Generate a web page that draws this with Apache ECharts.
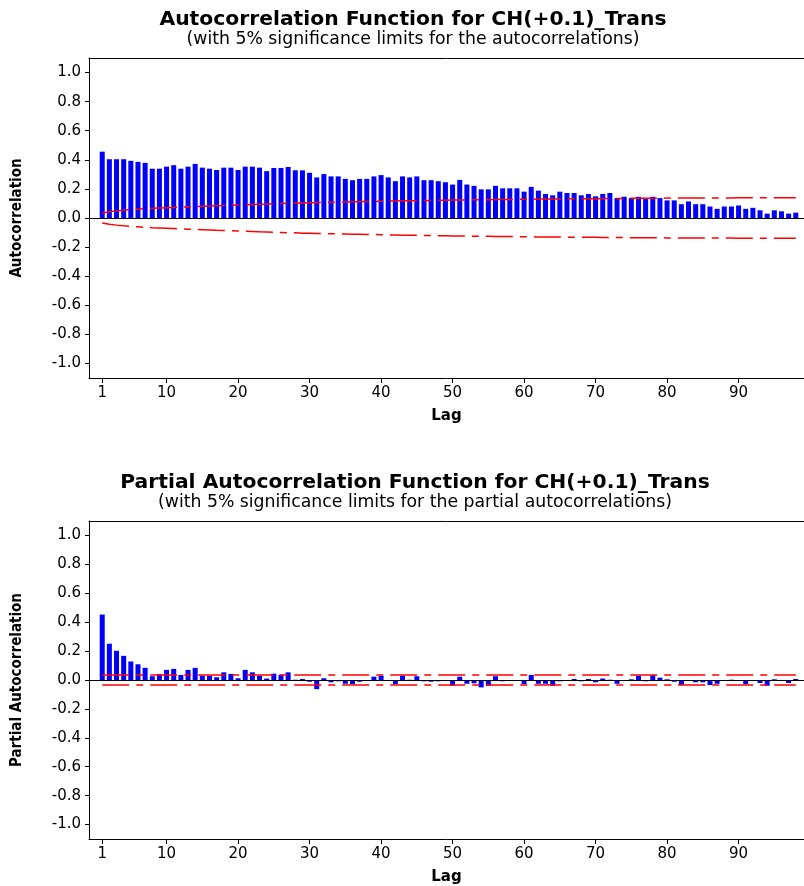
<!DOCTYPE html>
<html>
<head>
<meta charset="utf-8">
<script src="https://cdn.jsdelivr.net/npm/echarts@6/dist/echarts.min.js"></script>
<style>
html,body{margin:0;padding:0;background:#fff;}
#chart{width:804px;height:886px;}
</style>
</head>
<body>
<div id="chart"></div>
<script>
// ---- data ----
const lags = Array.from({length: 98}, (_, i) => i + 1);

const acfValues = [
  0.456,0.404,0.404,0.404,0.393,0.386,0.379,0.339,0.339,0.353,
  0.363,0.339,0.353,0.372,0.346,0.339,0.330,0.346,0.346,0.330,
  0.353,0.353,0.346,0.322,0.344,0.344,0.351,0.328,0.328,0.311,
  0.279,0.302,0.286,0.286,0.269,0.260,0.269,0.269,0.286,0.295,
  0.279,0.253,0.286,0.279,0.286,0.260,0.260,0.253,0.246,0.230,
  0.262,0.230,0.221,0.197,0.197,0.221,0.204,0.204,0.204,0.181,
  0.214,0.188,0.165,0.156,0.181,0.172,0.172,0.156,0.165,0.149,
  0.165,0.172,0.137,0.146,0.137,0.146,0.130,0.146,0.137,0.121,
  0.121,0.095,0.114,0.095,0.095,0.079,0.063,0.079,0.079,0.086,
  0.063,0.070,0.053,0.030,0.053,0.046,0.030,0.037
];

const acfLimit = [
  0.035,0.043,0.049,0.054,0.058,0.061,0.064,0.067,0.069,0.071,
  0.073,0.075,0.077,0.079,0.081,0.083,0.085,0.086,0.088,0.090,
  0.091,0.093,0.095,0.096,0.098,0.099,0.101,0.102,0.104,0.105,
  0.106,0.107,0.108,0.109,0.110,0.111,0.112,0.113,0.114,0.115,
  0.116,0.117,0.118,0.119,0.119,0.120,0.121,0.122,0.122,0.123,
  0.124,0.124,0.125,0.126,0.126,0.127,0.127,0.128,0.128,0.129,
  0.129,0.130,0.130,0.131,0.131,0.132,0.132,0.132,0.133,0.133,
  0.134,0.134,0.134,0.135,0.135,0.135,0.136,0.136,0.136,0.137,
  0.137,0.137,0.137,0.138,0.138,0.138,0.138,0.138,0.138,0.139,
  0.139,0.139,0.139,0.139,0.139,0.139,0.139,0.139
];

const pacfValues = [
  0.453,0.251,0.202,0.167,0.128,0.109,0.084,0.026,0.042,0.070,
  0.077,0.035,0.070,0.084,0.030,0.030,0.019,0.053,0.042,0.012,
  0.070,0.053,0.030,0.010,0.044,0.037,0.053,0.002,0.007,-0.012,
  -0.063,0.012,-0.016,-0.009,-0.026,-0.028,-0.012,-0.005,0.023,0.030,
  -0.007,-0.028,0.030,0.002,0.026,-0.009,-0.012,-0.009,-0.007,-0.040,
  0.023,-0.026,-0.023,-0.051,-0.040,0.026,-0.009,-0.007,-0.005,-0.028,
  0.035,-0.026,-0.026,-0.040,-0.009,-0.007,0.007,-0.009,0.007,-0.016,
  0.010,0.002,-0.026,-0.005,0.005,0.030,-0.009,0.033,0.016,0.005,
  -0.012,-0.035,-0.002,-0.016,-0.016,-0.035,-0.026,-0.005,0.002,-0.002,
  -0.028,-0.005,-0.021,-0.040,0.005,-0.005,-0.021,0.007
];

const pacfLimit = 0.034;

const xTickLabels = [1, 10, 20, 30, 40, 50, 60, 70, 80, 90];
const yTickLabels = [-1.0, -0.8, -0.6, -0.4, -0.2, 0.0, 0.2, 0.4, 0.6, 0.8, 1.0];

const titles = [
  'Autocorrelation Function for CH(+0.1)_Trans',
  'Partial Autocorrelation Function for CH(+0.1)_Trans'
];
const subtitles = [
  '(with 5% significance limits for the autocorrelations)',
  '(with 5% significance limits for the partial autocorrelations)'
];
const yNames = ['Autocorrelation', 'Partial Autocorrelation'];

// ---- chart ----
const chart = echarts.init(document.getElementById('chart'), null, {renderer: 'canvas'});

const BLUE = '#0000ff';
const RED = '#ff0000';
const tickFont = {fontFamily: 'DejaVu Sans', fontSize: 15, color: '#000'};
const dashPattern = [27, 7, 7, 7];
const X_MIN = -0.85, X_MAX = 99.15;

function xAx(gi) {
  return {
    type: 'value', gridIndex: gi, min: X_MIN, max: X_MAX, position: 'bottom',
    name: 'Lag', nameLocation: 'middle', nameGap: 31,
    nameTextStyle: {fontFamily: 'DejaVu Sans', fontWeight: 'bold', fontSize: 15, color: '#000'},
    axisLine: {show: true, onZero: false, lineStyle: {color: '#000', width: 1}},
    axisTick: {show: true, length: 5, lineStyle: {color: '#000', width: 1}, customValues: xTickLabels},
    axisLabel: Object.assign({customValues: xTickLabels, margin: 8, showMinLabel: true, showMaxLabel: true}, tickFont),
    splitLine: {show: false}
  };
}
function xTopAx(gi) {
  return {
    type: 'value', gridIndex: gi, min: X_MIN, max: X_MAX, position: 'top',
    axisLine: {show: true, onZero: false, lineStyle: {color: '#000', width: 1}},
    axisTick: {show: false}, axisLabel: {show: false}, splitLine: {show: false}
  };
}
function yAx(gi) {
  return {
    type: 'value', gridIndex: gi, min: -1.1, max: 1.1,
    name: yNames[gi], nameLocation: 'middle', nameGap: 64, nameRotate: 90,
    nameTextStyle: {fontFamily: "'DejaVu Sans Condensed', 'Liberation Sans'", fontWeight: 'bold', fontSize: 15, color: '#000'},
    axisLine: {show: true, onZero: false, lineStyle: {color: '#000', width: 1}},
    axisTick: {show: true, length: 4, lineStyle: {color: '#000', width: 1}, customValues: yTickLabels},
    axisLabel: Object.assign({customValues: yTickLabels, margin: 8, formatter: v => v.toFixed(1)}, tickFont),
    splitLine: {show: false}
  };
}

function limitLine(gi, data, name) {
  return {
    type: 'line', name: name, xAxisIndex: gi, yAxisIndex: gi,
    data: data, symbol: 'none', silent: true, z: 3,
    lineStyle: {color: RED, width: 1.5, type: dashPattern}
  };
}

const acfBars = lags.map((l, i) => [l, acfValues[i]]);
const pacfBars = lags.map((l, i) => [l, pacfValues[i]]);
const acfUp = lags.map((l, i) => [l, acfLimit[i]]);
const acfLo = lags.map((l, i) => [l, -acfLimit[i]]);
const pacfUp = [[lags[0], pacfLimit], [lags[lags.length - 1], pacfLimit]];
const pacfLo = [[lags[0], -pacfLimit], [lags[lags.length - 1], -pacfLimit]];

function zeroLine() {
  return {
    silent: true, symbol: ['none', 'none'], label: {show: false},
    lineStyle: {color: '#000', width: 1, type: 'solid'},
    data: [{yAxis: 0}]
  };
}

const titleStyle = {fontFamily: 'DejaVu Sans', fontWeight: 'bold', fontSize: 20.3, color: '#000'};
const subStyle = {fontFamily: 'DejaVu Sans', fontSize: 17.3, color: '#000'};

const option = {
  backgroundColor: '#fff',
  animation: false,
  title: [
    {text: titles[0], subtext: subtitles[0], left: 408, textAlign: 'center', top: 5, itemGap: 1,
     textStyle: titleStyle, subtextStyle: subStyle},
    {text: titles[1], subtext: subtitles[1], left: 410, textAlign: 'center', top: 468, itemGap: 1,
     textStyle: titleStyle, subtextStyle: subStyle}
  ],
  grid: [
    {left: 89, right: 0, top: 58, height: 320, show: false},
    {left: 89, right: 0, top: 521, height: 320, show: false}
  ],
  xAxis: [xAx(0), xAx(1), xTopAx(0), xTopAx(1)],
  yAxis: [yAx(0), yAx(1)],
  series: [
    {type: 'bar', name: 'ACF', xAxisIndex: 0, yAxisIndex: 0, data: acfBars, barWidth: 5,
     itemStyle: {color: BLUE}, markLine: zeroLine(), z: 2},
    limitLine(0, acfUp, 'upper'),
    limitLine(0, acfLo, 'lower'),
    {type: 'bar', name: 'PACF', xAxisIndex: 1, yAxisIndex: 1, data: pacfBars, barWidth: 5,
     itemStyle: {color: BLUE}, markLine: zeroLine(), z: 2},
    limitLine(1, pacfUp, 'upper'),
    limitLine(1, pacfLo, 'lower')
  ]
};
chart.setOption(option);
</script>
</body>
</html>
